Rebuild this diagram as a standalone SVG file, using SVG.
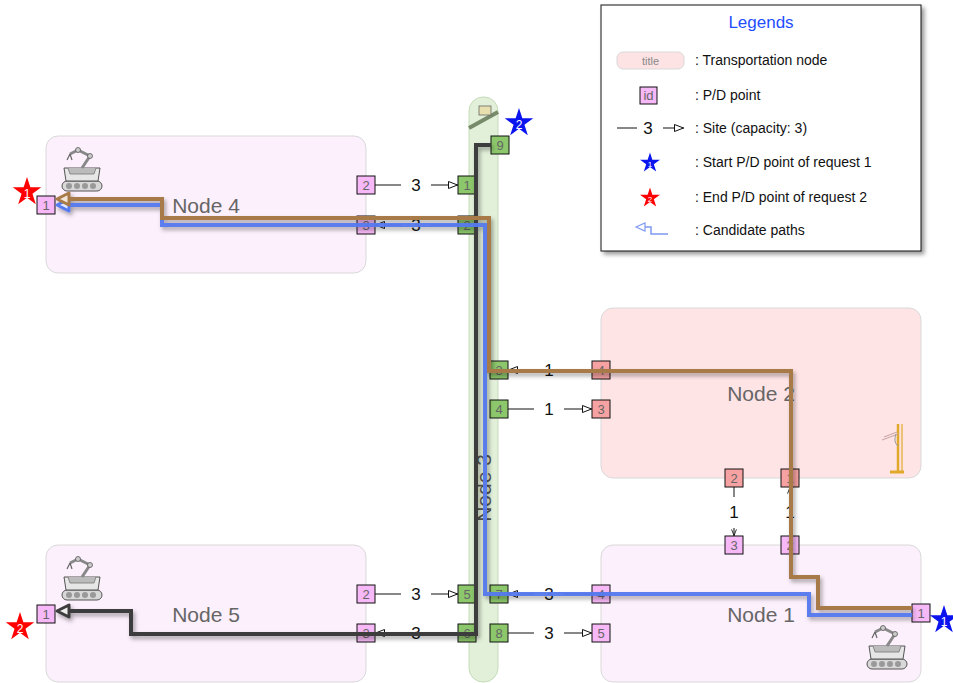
<svg xmlns="http://www.w3.org/2000/svg" xmlns:xlink="http://www.w3.org/1999/xlink" width="953" height="683" viewBox="0 0 953 683">
  <style>
    text { font-family: "Liberation Sans", Arial, sans-serif; }
    .node-pink { fill: #fcf0fc; stroke: #d9d9d9; stroke-width: 1; }
    .node-red { fill: #ffe4e6; stroke: #d9d9d9; stroke-width: 1; }
    .node-green { fill: #e2f0d9; stroke: #c6dcb9; stroke-width: 1; }
    .nlabel { font-size: 21px; fill: #666; text-anchor: middle; }
    .pd { stroke: #111; stroke-width: 1; }
    .pd-pink { fill: #f6b8f6; }
    .pd-green { fill: #8cc76b; }
    .pd-red { fill: #f7a2a2; }
    .pdt { font-size: 13px; fill: #666; text-anchor: middle; dominant-baseline: central; }
    .site { stroke: #111; stroke-width: 1; fill: none; }
    .cap { font-size: 17px; fill: #111; text-anchor: middle; dominant-baseline: central; }
    .path { fill: none; stroke-width: 4; stroke-linejoin: miter; }
    .leg { font-size: 14px; fill: #111; dominant-baseline: central; }
    .starnum { font-size: 12px; fill: #fff; text-anchor: middle; dominant-baseline: central; }
  </style>
  <defs>
    <marker id="open" viewBox="0 0 10 8" refX="10" refY="4" markerWidth="10" markerHeight="8" markerUnits="userSpaceOnUse" orient="auto">
      <path d="M0.5,0.5 L9.5,4 L0.5,7.5 z" fill="#fff" stroke="#111" stroke-width="1"/>
    </marker>
    <marker id="open-small" viewBox="0 0 10 8" refX="10" refY="4" markerWidth="7" markerHeight="6" markerUnits="userSpaceOnUse" orient="auto">
      <path d="M0.5,0.5 L9.5,4 L0.5,7.5" fill="none" stroke="#111" stroke-width="1.2"/>
    </marker>
    <filter id="shadow" x="-10%" y="-10%" width="130%" height="130%">
      <feDropShadow dx="2" dy="3" stdDeviation="2" flood-color="#000" flood-opacity="0.35"/>
    </filter>
    <filter id="boxshadow" x="-5%" y="-5%" width="115%" height="115%">
      <feDropShadow dx="3" dy="3" stdDeviation="2" flood-color="#000" flood-opacity="0.4"/>
    </filter>
    <path id="star" d="M0,-15 L3.37,-4.64 L14.27,-4.64 L5.45,1.77 L8.82,12.14 L0,5.73 L-8.82,12.14 L-5.45,1.77 L-14.27,-4.64 L-3.37,-4.64 z"/>
    <g id="robot">
      <rect x="2" y="33" width="40" height="10" rx="5" fill="#d8d8d8" stroke="#555" stroke-width="1"/>
      <circle cx="9" cy="38" r="3" fill="#999"/>
      <circle cx="17" cy="38" r="3" fill="#999"/>
      <circle cx="25" cy="38" r="3" fill="#999"/>
      <circle cx="33" cy="38" r="3" fill="#999"/>
      <path d="M4,20 L40,20 L38,33 L6,33 z" fill="#e6e6e6" stroke="#555" stroke-width="1"/>
      <path d="M8,20 L10,26 L34,26 L36,20" fill="#bbb" stroke="#777" stroke-width="0.8"/>
      <polyline points="22,20 30,8 18,2 10,6" fill="none" stroke="#888" stroke-width="3" stroke-linejoin="round"/>
      <circle cx="30" cy="8" r="2.5" fill="#ccc" stroke="#555" stroke-width="0.8"/>
      <circle cx="18" cy="2" r="2.5" fill="#ccc" stroke="#555" stroke-width="0.8"/>
      <path d="M10,6 L7,12 M10,6 L12,12" stroke="#666" stroke-width="1.2"/>
    </g>
  </defs>

  <!-- transportation nodes -->
  <g id="node4">
    <rect class="node-pink" x="46" y="136" width="320" height="137" rx="12"/>
    <use xlink:href="#robot" x="60" y="148"/>
    <text class="nlabel" x="206" y="213">Node 4</text>
  </g>
  <g id="node5">
    <rect class="node-pink" x="46" y="545" width="320" height="137" rx="12"/>
    <use xlink:href="#robot" x="60" y="557"/>
    <text class="nlabel" x="206" y="622">Node 5</text>
  </g>
  <g id="node1">
    <rect class="node-pink" x="601" y="545" width="320" height="137" rx="12"/>
    <use xlink:href="#robot" x="865" y="626"/>
    <text class="nlabel" x="761" y="622">Node 1</text>
  </g>
  <g id="node2">
    <rect class="node-red" x="601" y="308" width="320" height="170" rx="12"/>
    <g stroke="#e0a92a" fill="none">
      <line x1="898" y1="424" x2="898" y2="472" stroke-width="2.5"/>
      <line x1="902" y1="424" x2="902" y2="472" stroke-width="1.2"/>
      <path d="M882,440 L898,434 M884,437 L897,432" stroke-width="1.2" stroke="#caa"/>
      <path d="M890,472 L904,472" stroke-width="3"/>
      <path d="M896,434 Q893,442 898,446" stroke-width="1" stroke="#999"/>
    </g>
    <text class="nlabel" x="761" y="401">Node 2</text>
  </g>
  <g id="node3">
    <rect class="node-green" x="469" y="97" width="29" height="585" rx="14"/>
    <line x1="469" y1="128" x2="498" y2="112" stroke="#778a6a" stroke-width="4"/>
    <rect x="479" y="106" width="12" height="9" fill="#e8dfae" stroke="#666" stroke-width="0.8"/>
    <text class="nlabel" transform="translate(491,488) rotate(-90)" style="fill:#555">Node 3</text>
  </g>

  <!-- site connectors -->
  <g id="connectors">
    <line class="site" x1="375" y1="185" x2="401" y2="185"/>
    <line class="site" x1="431" y1="185" x2="458" y2="185" marker-end="url(#open)"/>
    <text class="cap" x="416" y="185">3</text>

    <line class="site" x1="458" y1="225" x2="431" y2="225"/>
    <line class="site" x1="401" y1="225" x2="375" y2="225" marker-end="url(#open)"/>
    <text class="cap" x="416" y="225">3</text>

    <line class="site" x1="592" y1="370" x2="564" y2="370"/>
    <line class="site" x1="534" y1="370" x2="508" y2="370" marker-end="url(#open)"/>
    <text class="cap" x="549" y="370">1</text>

    <line class="site" x1="508" y1="409" x2="534" y2="409"/>
    <line class="site" x1="564" y1="409" x2="592" y2="409" marker-end="url(#open)"/>
    <text class="cap" x="549" y="409">1</text>

    <line class="site" x1="375" y1="594" x2="401" y2="594"/>
    <line class="site" x1="431" y1="594" x2="458" y2="594" marker-end="url(#open)"/>
    <text class="cap" x="416" y="594">3</text>

    <line class="site" x1="458" y1="633" x2="431" y2="633"/>
    <line class="site" x1="401" y1="633" x2="375" y2="633" marker-end="url(#open)"/>
    <text class="cap" x="416" y="633">3</text>

    <line class="site" x1="592" y1="594" x2="564" y2="594"/>
    <line class="site" x1="534" y1="594" x2="508" y2="594" marker-end="url(#open)"/>
    <text class="cap" x="549" y="594">3</text>

    <line class="site" x1="508" y1="633" x2="534" y2="633"/>
    <line class="site" x1="564" y1="633" x2="592" y2="633" marker-end="url(#open)"/>
    <text class="cap" x="549" y="633">3</text>

    <line class="site" x1="734" y1="487" x2="734" y2="497"/>
    <line class="site" x1="734" y1="528" x2="734" y2="536" marker-end="url(#open-small)"/>
    <text class="cap" x="734" y="512">1</text>

    <line class="site" x1="790" y1="536" x2="790" y2="528"/>
    <line class="site" x1="790" y1="497" x2="790" y2="487" marker-end="url(#open-small)"/>
    <text class="cap" x="790" y="512">1</text>
  </g>

  <!-- P/D points -->
  <g id="pd-points">
    <g id="n4-1"><rect class="pd pd-pink" x="37" y="196" width="18" height="18"/><text class="pdt" x="46" y="205">1</text></g>
    <g id="n4-2"><rect class="pd pd-pink" x="357" y="176" width="18" height="18"/><text class="pdt" x="366" y="185">2</text></g>
    <g id="n4-3"><rect class="pd pd-pink" x="357" y="216" width="18" height="18"/><text class="pdt" x="366" y="225">3</text></g>

    <g id="n5-1"><rect class="pd pd-pink" x="37" y="605" width="18" height="18"/><text class="pdt" x="46" y="614">1</text></g>
    <g id="n5-2"><rect class="pd pd-pink" x="357" y="585" width="18" height="18"/><text class="pdt" x="366" y="594">2</text></g>
    <g id="n5-3"><rect class="pd pd-pink" x="357" y="624" width="18" height="18"/><text class="pdt" x="366" y="633">3</text></g>

    <g id="n3-9"><rect class="pd pd-green" x="491" y="136" width="18" height="18"/><text class="pdt" x="500" y="145">9</text></g>
    <g id="n3-1"><rect class="pd pd-green" x="458" y="176" width="18" height="18"/><text class="pdt" x="467" y="185">1</text></g>
    <g id="n3-2"><rect class="pd pd-green" x="458" y="216" width="18" height="18"/><text class="pdt" x="467" y="225">2</text></g>
    <g id="n3-3"><rect class="pd pd-green" x="490" y="361" width="18" height="18"/><text class="pdt" x="499" y="370">3</text></g>
    <g id="n3-4"><rect class="pd pd-green" x="490" y="400" width="18" height="18"/><text class="pdt" x="499" y="409">4</text></g>
    <g id="n3-5"><rect class="pd pd-green" x="458" y="585" width="18" height="18"/><text class="pdt" x="467" y="594">5</text></g>
    <g id="n3-6"><rect class="pd pd-green" x="458" y="624" width="18" height="18"/><text class="pdt" x="467" y="633">6</text></g>
    <g id="n3-7"><rect class="pd pd-green" x="490" y="585" width="18" height="18"/><text class="pdt" x="499" y="594">7</text></g>
    <g id="n3-8"><rect class="pd pd-green" x="490" y="624" width="18" height="18"/><text class="pdt" x="499" y="633">8</text></g>

    <g id="n2-4"><rect class="pd pd-red" x="592" y="361" width="18" height="18"/><text class="pdt" x="601" y="370">4</text></g>
    <g id="n2-3"><rect class="pd pd-red" x="592" y="400" width="18" height="18"/><text class="pdt" x="601" y="409">3</text></g>
    <g id="n2-2"><rect class="pd pd-red" x="725" y="469" width="18" height="18"/><text class="pdt" x="734" y="478">2</text></g>
    <g id="n2-1"><rect class="pd pd-red" x="781" y="469" width="18" height="18"/><text class="pdt" x="790" y="478">1</text></g>

    <g id="n1-3"><rect class="pd pd-pink" x="725" y="536" width="18" height="18"/><text class="pdt" x="734" y="545">3</text></g>
    <g id="n1-2"><rect class="pd pd-pink" x="781" y="536" width="18" height="18"/><text class="pdt" x="790" y="545">2</text></g>
    <g id="n1-4"><rect class="pd pd-pink" x="592" y="585" width="18" height="18"/><text class="pdt" x="601" y="594">4</text></g>
    <g id="n1-5"><rect class="pd pd-pink" x="592" y="624" width="18" height="18"/><text class="pdt" x="601" y="633">5</text></g>
    <g id="n1-1"><rect class="pd pd-pink" x="912" y="604" width="18" height="18"/><text class="pdt" x="921" y="613">1</text></g>
  </g>

  <!-- candidate paths -->
  <g id="paths" filter="url(#shadow)">
    <path class="path" stroke="#3e3e3e" d="M491,145 H476 V634 H131 V611 H64"/>
    <path d="M57,611 L69,605 L69,617 z" fill="#eee" stroke="#3e3e3e" stroke-width="3" stroke-linejoin="round"/>
    <path class="path" stroke="#5479ee" stroke-opacity="0.95" d="M912,615 H809 V594 H485 V225 H162 V205 H64"/>
    <path d="M57,205 L69,199 L69,211 z" fill="#dfe6ff" stroke="#5479ee" stroke-width="3" stroke-linejoin="round"/>
    <path class="path" stroke="#a87a46" d="M912,608 H818 V577 H791 V371 H489 V218 H162 V199 H64"/>
    <path d="M57,199 L69,193 L69,205 z" fill="#f2e6d8" stroke="#a87a46" stroke-width="3" stroke-linejoin="round"/>
  </g>

  <!-- request start / end markers -->
  <g id="stars">
    <use xlink:href="#star" x="519" y="123" fill="#0a14ee"/>
    <text class="starnum" x="519" y="125">2</text>
    <use xlink:href="#star" x="944" y="620" fill="#0a14ee"/>
    <text class="starnum" x="944" y="622">1</text>
    <use xlink:href="#star" x="27" y="192" fill="#f00"/>
    <text class="starnum" x="27" y="194">1</text>
    <use xlink:href="#star" x="20" y="627" fill="#f00"/>
    <text class="starnum" x="20" y="629">2</text>
  </g>

  <!-- legend -->
  <g id="legend">
    <rect x="601" y="5" width="320" height="246" fill="#fff" stroke="#111" stroke-width="1" filter="url(#boxshadow)"/>
    <text x="761" y="22" font-size="17" fill="#1f4eff" text-anchor="middle" dominant-baseline="central">Legends</text>

    <rect x="617" y="52" width="67" height="17" rx="6" fill="#fde3e4" stroke="#d9d9d9"/>
    <text x="650.5" y="61" font-size="11" fill="#888" text-anchor="middle" dominant-baseline="central">title</text>
    <text class="leg" x="695" y="60">: Transportation node</text>

    <rect class="pd pd-pink" x="640" y="87" width="17" height="17"/>
    <text class="pdt" x="648.5" y="95.5">id</text>
    <text class="leg" x="695" y="95">: P/D point</text>

    <line class="site" x1="617" y1="128" x2="637" y2="128"/>
    <text class="cap" x="648" y="128">3</text>
    <line class="site" x1="663" y1="128" x2="684" y2="128" marker-end="url(#open)"/>
    <text class="leg" x="695" y="128">: Site (capacity: 3)</text>

    <use xlink:href="#star" transform="translate(650,163) scale(0.7)" fill="#0a14ee"/>
    <text class="starnum" x="650" y="164" style="font-size:8px">1</text>
    <text class="leg" x="695" y="162">: Start P/D point of request 1</text>

    <use xlink:href="#star" transform="translate(650,198) scale(0.7)" fill="#f00"/>
    <text class="starnum" x="650" y="199" style="font-size:8px">2</text>
    <text class="leg" x="695" y="197">: End P/D point of request 2</text>

    <path d="M638,227 H651 V234 H668" fill="none" stroke="#7f99f0" stroke-width="1.5"/>
    <path d="M636,227 L645,223 L645,231 z" fill="#fff" stroke="#7f99f0" stroke-width="1.2"/>
    <text class="leg" x="695" y="230">: Candidate paths</text>
  </g>
</svg>
